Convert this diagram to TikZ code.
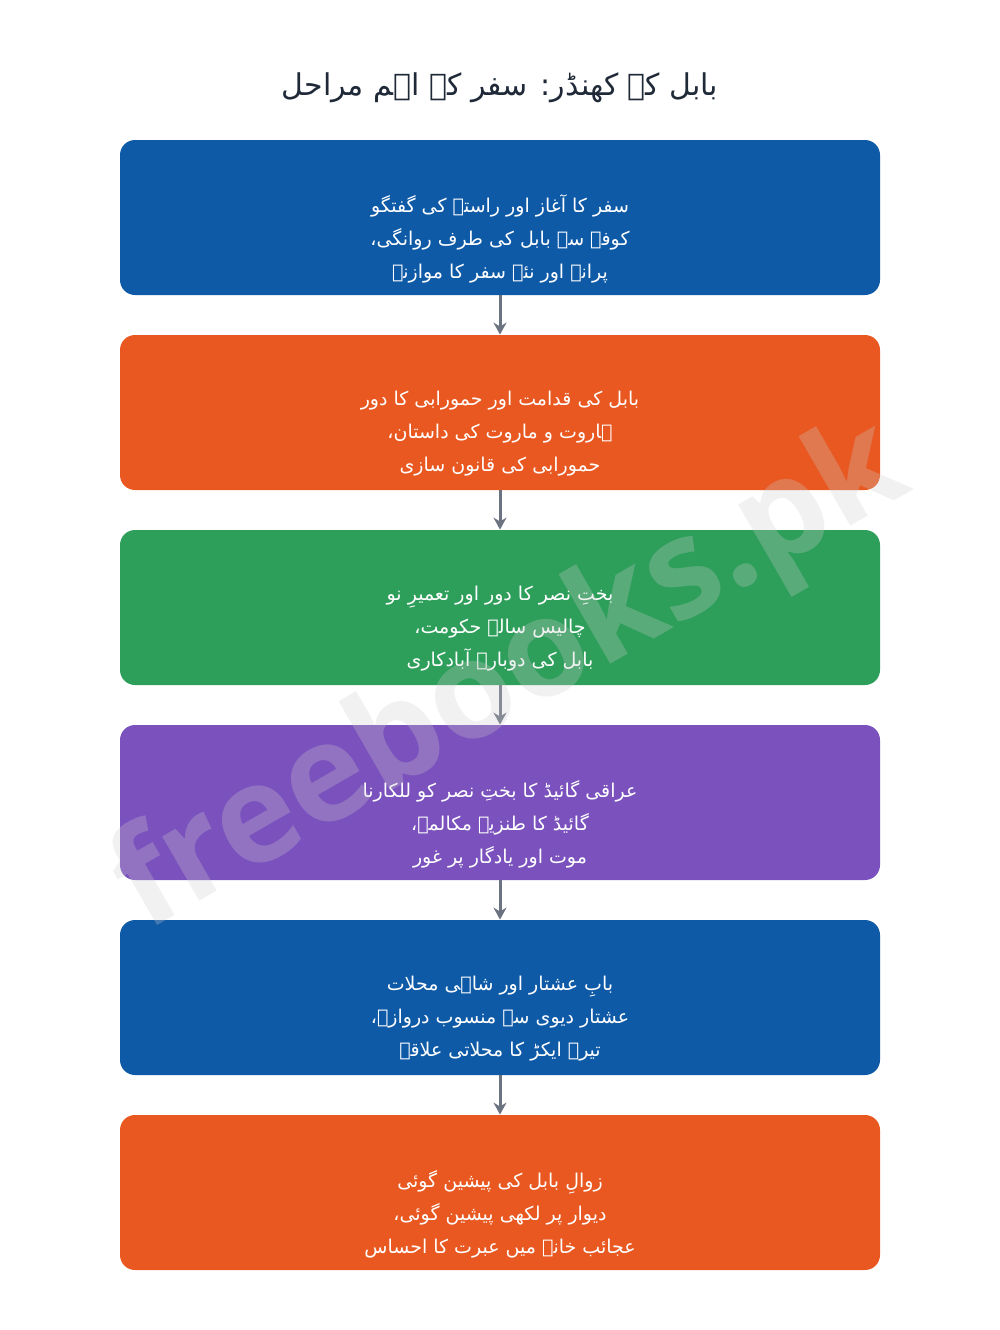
\documentclass[tikz,border=0pt]{standalone}
\usepackage{fontspec}
\usetikzlibrary{arrows.meta}
\TeXXeTstate=1
\newfontfamily\urdufont[Script=Arabic]{DejaVu Sans}
\newfontfamily\markfont{Open Sans}
\definecolor{bluebox}{RGB}{14,90,167}
\definecolor{orangebox}{RGB}{232,88,32}
\definecolor{greenbox}{RGB}{46,159,91}
\definecolor{purplebox}{RGB}{122,81,189}
\definecolor{linkgray}{RGB}{107,114,128}
\definecolor{titleink}{RGB}{31,41,55}
\definecolor{markgray}{RGB}{205,205,205}

\begin{document}
\begin{tikzpicture}[x=0.5pt,y=-0.5pt,
   stepbox/.style={rectangle,rounded corners=7.5pt,minimum width=380pt,minimum height=77.5pt,inner sep=0pt},
   steptext/.style={text=white,align=center,font=\urdufont\fontsize{9.5}{16.5}\selectfont},
   link/.style={-{Stealth[length=6pt,width=6.5pt]},draw=linkgray,line width=1.5pt}]
   \useasboundingbox (0,0) rectangle (1000,1330);

   \node[text=titleink,font=\urdufont\fontsize{15}{20}\selectfont] (title) at (500,88) {\beginR بابل کے کھنڈر: سفر کے اہم مراحل\endR};

   \node[stepbox,fill=bluebox] (s1) at (500,217.5) {};
   \node[stepbox,fill=orangebox] (s2) at (500,412.5) {};
   \node[stepbox,fill=greenbox] (s3) at (500,607.5) {};
   \node[stepbox,fill=purplebox] (s4) at (500,802.5) {};
   \node[stepbox,fill=bluebox] (s5) at (500,997.5) {};
   \node[stepbox,fill=orangebox] (s6) at (500,1192.5) {};

   \node[steptext] (t1) at (500,239) {\beginR سفر کا آغاز اور راستے کی گفتگو\endR\\\beginR کوفہ سے بابل کی طرف روانگی،\endR\\\beginR پرانے اور نئے سفر کا موازنہ\endR};
   \node[steptext] (t2) at (500,434) {\beginR بابل کی قدامت اور حمورابی کا دور\endR\\\beginR ہاروت و ماروت کی داستان،\endR\\\beginR حمورابی کی قانون سازی\endR};
   \node[steptext] (t3) at (500,629) {\beginR بختِ نصر کا دور اور تعمیرِ نو\endR\\\beginR چالیس سالہ حکومت،\endR\\\beginR بابل کی دوبارہ آبادکاری\endR};
   \node[steptext] (t4) at (500,824) {\beginR عراقی گائیڈ کا بختِ نصر کو للکارنا\endR\\\beginR گائیڈ کا طنزیہ مکالمہ،\endR\\\beginR موت اور یادگار پر غور\endR};
   \node[steptext] (t5) at (500,1019) {\beginR بابِ عشتار اور شاہی محلات\endR\\\beginR عشتار دیوی سے منسوب دروازہ،\endR\\\beginR تیرہ ایکڑ کا محلاتی علاقہ\endR};
   \node[steptext] (t6) at (500,1214) {\beginR زوالِ بابل کی پیشین گوئی\endR\\\beginR دیوار پر لکھی پیشین گوئی،\endR\\\beginR عجائب خانے میں عبرت کا احساس\endR};

   \draw[link] (s1) -- (s2);
   \draw[link] (s2) -- (s3);
   \draw[link] (s3) -- (s4);
   \draw[link] (s4) -- (s5);
   \draw[link] (s5) -- (s6);

   \node[rotate=30,text=markgray,text opacity=0.28,font=\markfont\bfseries\fontsize{68}{68}\selectfont] (mark) at (512,680) {freebooks.pk};

\end{tikzpicture}
\end{document}
